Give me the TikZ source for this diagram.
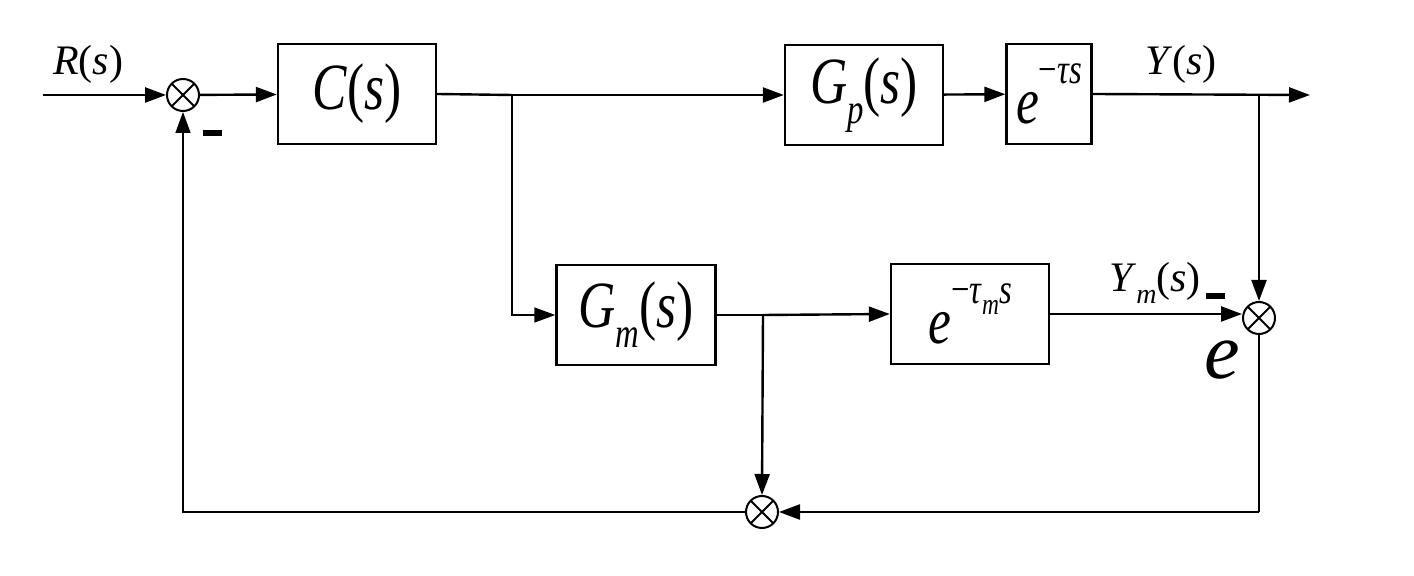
\documentclass[tikz,border=0pt]{standalone}
\usepackage{fontspec}
\setmainfont{Liberation Serif}[ItalicFont=Liberation Serif Italic]
\newfontfamily\bx{Liberation Serif}[FakeStretch=0.78, ItalicFont=Liberation Serif Italic, ItalicFeatures={FakeStretch=0.78}]
\usetikzlibrary{arrows.meta}
\tikzset{
  x=0.5pt, y=-0.5pt,
  blk/.style={draw, line width=1.2pt, minimum height=50pt, inner sep=0pt},
  sumnode/.style={draw, circle, line width=1pt, minimum size=16pt, inner sep=0pt,
    path picture={\draw[line width=1pt] (path picture bounding box.north west) -- (path picture bounding box.south east)
                  (path picture bounding box.north east) -- (path picture bounding box.south west);}},
  sig/.style={line width=1.2pt, -{Triangle[length=10.5pt,width=7.5pt]}},
  sigthin/.style={line width=0.7pt, -{Triangle[length=10.5pt,width=7.5pt]}},
  ln/.style={line width=1.2pt},
  lnthin/.style={line width=0.7pt},
  lbl/.style={inner sep=0pt, font=\fontsize{21}{24}\selectfont},
  minus/.style={fill=black, minimum width=9.5pt, minimum height=3.2pt, inner sep=0pt},
}
\newcommand{\bt}[1]{{\fontsize{33}{36}\selectfont\bx #1}}
\newcommand{\sm}[1]{{\fontsize{21}{22}\selectfont #1}}
\begin{document}
\begin{tikzpicture}
\useasboundingbox (0,0) rectangle (1414,576);
% blocks
\node[blk, minimum width=79pt] (C) at (357,94) {\bt{\textit{C}(\textit{s})}};
\node[blk, minimum width=79pt] (Gp) at (864,95) {\bt{\textit{G}\raisebox{-0.3em}{\sm{\textit{p}}}(\textit{s})}};
\node[blk, minimum width=42.5pt] (D1) at (1049,94) {\bt{\textit{e}\raisebox{0.6em}{\sm{−\textit{τs}}}}};
\node[blk, minimum width=79.5pt] (Gm) at (636,315) {\bt{\textit{G}\raisebox{-0.3em}{\sm{\textit{m}}}(\textit{s})}};
\node[blk, minimum width=79pt] (D2) at (970,314) {\bt{\textit{e}\raisebox{0.6em}{\sm{−\textit{τ}\raisebox{-0.25em}{\fontsize{15}{16}\selectfont\textit{m}}\textit{s}}}}};
% summing junctions
\node[sumnode] (S1) at (183,95) {};
\node[sumnode] (S2) at (1259,318) {};
\node[sumnode] (S3) at (762,512) {};
% coordinates
\coordinate (in) at (43,95);
\coordinate (out) at (1310,95);
\coordinate (b1) at (512,95);
\coordinate (b2) at (1259,95);
\coordinate (b3) at (763,315);
% labels
\node[lbl] (R) at (88,64) {\textit{R}(\textit{s})};
\node[lbl] (Y) at (1181,64) {\textit{Y}(\textit{s})};
\node[lbl] (Ym) at (1155,283) {\textit{Y}\raisebox{-0.3em}{\fontsize{14}{15}\selectfont\textit{m}}(\textit{s})};
\node[inner sep=0pt, font=\fontsize{40}{44}\selectfont] (E) at (1222,360) {\textit{e}};
\node[minus] (m1) at (212,133) {};
\node[minus] (m2) at (1215,296) {};
% connectors
\draw[sig] (in) -- (S1);
\draw[sig] (S1) -- (C);
\draw[ln] (C.east) -- (b1);
\draw[sig] (b1) -- (Gp.west);
\draw[sig] (Gp) -- (D1);
\draw[sig] (D1.east) -- (out);
\draw[sigthin] (b1) |- (Gm.west);
\draw[ln] (Gm.east) -- (b3);
\draw[sig] (b3) -- (D2.west);
\draw[sig] (D2.east) -- (D2.east -| S2.west);
\draw[sig] (b2) -- (S2.north);
\draw[lnthin] (S2.south) -- (S2.south |- S3);
\draw[sig] (S2.south |- S3) -- (S3.east);
\draw[sig] (b3) -- (S3.north);
\draw[sigthin] (S3.west) -| (S1.south);
\end{tikzpicture}
\end{document}
